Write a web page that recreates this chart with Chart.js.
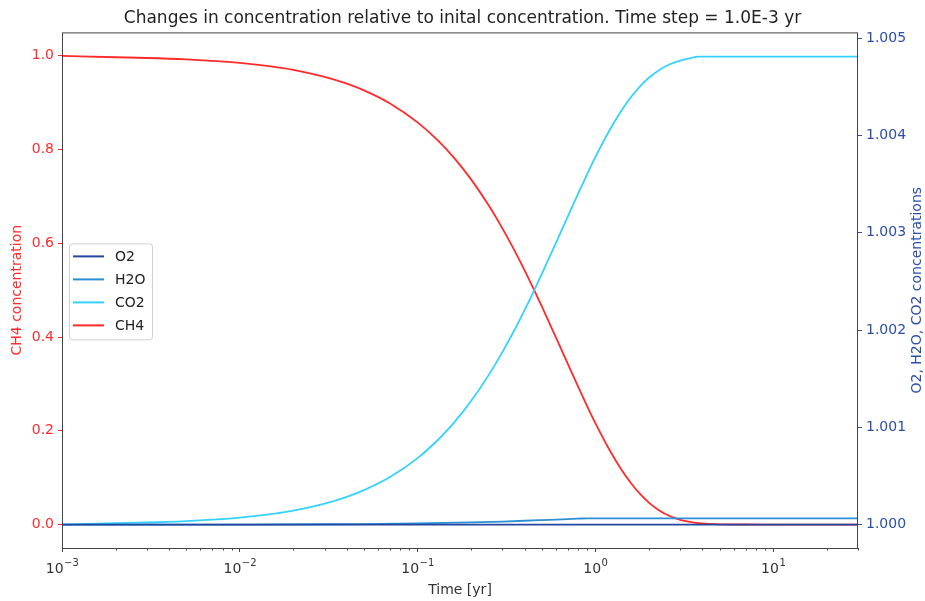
<!DOCTYPE html>
<html>
<head>
<meta charset="utf-8">
<script src="https://cdn.jsdelivr.net/npm/chart.js@4.4.1/dist/chart.umd.min.js"></script>
<style>
  html, body { margin: 0; padding: 0; background: #fff; }
  #wrap { width: 925px; height: 601px; }
</style>
</head>
<body>
<div id="wrap"><canvas id="concChart" width="925" height="601"></canvas></div>
<script>
// time axis (yr) and series
const times = [0.001, 0.002, 0.003, 0.005, 0.007, 0.01, 0.015, 0.02, 0.03, 0.04, 0.05, 0.07,
    0.1, 0.13, 0.16, 0.2, 0.25, 0.3, 0.35, 0.4, 0.45, 0.5, 0.6, 0.7, 0.8, 0.9,
    1.0, 1.2, 1.4, 1.6, 1.8, 2.0, 2.3, 2.6, 3.0, 3.4, 3.8, 5, 7, 10, 15, 20, 30];

const ch4 = [1.0, 0.997, 0.9954, 0.9924, 0.9893, 0.9848, 0.9773, 0.9699, 0.9551, 0.9406, 0.9264, 0.8985,
    0.8581, 0.8196, 0.7829, 0.7364, 0.6821, 0.6319, 0.5854, 0.5423, 0.5023, 0.4653, 0.3993, 0.3427, 0.2941, 0.2523,
    0.2165, 0.1595, 0.1174, 0.0865, 0.0637, 0.0469, 0.0296, 0.0187, 0.0101, 0.0055, 0.003, 0.0005, 0.0001, 0, 0, 0, 0];

const co2 = [1.000000, 1.000015, 1.000022, 1.000037, 1.000052, 1.000073, 1.000109, 1.000145, 1.000216, 1.000286, 1.000355, 1.000489,
    1.000684, 1.000870, 1.001046, 1.001271, 1.001532, 1.001774, 1.001998, 1.002206, 1.002399, 1.002577, 1.002895, 1.003168, 1.003402, 1.003604,
    1.003777, 1.004051, 1.004254, 1.004403, 1.004513, 1.004594, 1.004677, 1.004730, 1.004771, 1.004794, 1.004810, 1.004810, 1.004810,
    1.004810, 1.004810, 1.004810, 1.004810];

const h2oTimes = [0.001, 0.01, 0.03, 0.05, 0.1, 0.2, 0.3, 0.4, 0.5, 0.6, 0.7, 0.8, 0.9, 30];
const h2o = [1.0000001, 1.0000013, 1.0000040, 1.0000064, 1.0000124, 1.0000230, 1.0000321, 1.0000400,
    1.0000467, 1.0000524, 1.0000574, 1.0000616, 1.0000655, 1.0000655];

const o2Times = [0.001, 30];
const o2 = [1.0, 1.0];

const xTicks = [0.001, 0.01, 0.1, 1, 10];
const xTickExp = ['\u22123', '\u22122', '\u22121', '0', '1'];
const leftTicks = [0.0, 0.2, 0.4, 0.6, 0.8, 1.0];
const rightTicks = [1.000, 1.001, 1.002, 1.003, 1.004, 1.005];

const FONT = 'DejaVu Sans';
const RED = '#ff2a2a';
const BLUE_AX = '#2a4fa8';

const toPoints = (xs, ys) => xs.map((x, i) => ({ x: x, y: ys[i] }));

// frame, minor x ticks, x tick labels with exponents, right title and in-plot legend
const framePlugin = {
    id: 'frame',
    afterDraw(chart) {
        const { ctx, chartArea: a } = chart;
        const xs = chart.scales.x;
        ctx.save();
        ctx.strokeStyle = '#444';
        ctx.lineWidth = 1;
        ctx.strokeRect(a.left + 0.5, a.top + 0.5, a.right - a.left - 1, a.bottom - a.top);

        // minor ticks
        ctx.beginPath();
        for (let d = -3; d <= 1; d++) {
            for (let m = 2; m <= 9; m++) {
                const v = m * Math.pow(10, d);
                if (v > xs.max) break;
                const px = Math.round(xs.getPixelForValue(v)) + 0.5;
                ctx.moveTo(px, a.bottom);
                ctx.lineTo(px, a.bottom + 2.5);
            }
        }
        ctx.stroke();

        // x tick labels: 10 with superscript exponent
        ctx.fillStyle = '#333';
        ctx.textBaseline = 'alphabetic';
        ctx.textAlign = 'left';
        xTicks.forEach((v, i) => {
            const px = xs.getPixelForValue(v);
            ctx.font = '14px "' + FONT + '"';
            const wb = ctx.measureText('10').width;
            ctx.font = '10px "' + FONT + '"';
            const we = ctx.measureText(xTickExp[i]).width;
            const x0 = px - (wb + we) / 2;
            ctx.font = '14px "' + FONT + '"';
            ctx.fillText('10', x0, a.bottom + 25);
            ctx.font = '10px "' + FONT + '"';
            ctx.fillText(xTickExp[i], x0 + wb + 0.5, a.bottom + 18);
        });

        // right axis title, reading bottom to top
        ctx.save();
        ctx.translate(917, (a.top + a.bottom) / 2);
        ctx.rotate(-Math.PI / 2);
        ctx.font = '14px "' + FONT + '"';
        ctx.fillStyle = BLUE_AX;
        ctx.textAlign = 'center';
        ctx.textBaseline = 'middle';
        ctx.fillText('O2, H2O, CO2 concentrations', 0, 0);
        ctx.restore();

        // legend
        const lx = a.left + 7, ly = a.top + 211, lw = 83, lh = 96;
        ctx.fillStyle = 'rgba(255,255,255,0.85)';
        ctx.strokeStyle = '#d0d0d0';
        ctx.lineWidth = 1;
        ctx.beginPath();
        ctx.roundRect(lx + 0.5, ly + 0.5, lw, lh, 3);
        ctx.fill();
        ctx.stroke();
        ctx.font = '14px "' + FONT + '"';
        ctx.textBaseline = 'middle';
        ctx.textAlign = 'left';
        chart.data.datasets.forEach((ds, i) => {
            const y = ly + 13 + i * 23;
            ctx.strokeStyle = ds.borderColor;
            ctx.lineWidth = 2;
            ctx.beginPath();
            ctx.moveTo(lx + 4, y);
            ctx.lineTo(lx + 35, y);
            ctx.stroke();
            ctx.fillStyle = '#222';
            ctx.fillText(ds.label, lx + 46, y + 1);
        });
        ctx.restore();
    }
};

const ctx = document.getElementById('concChart');
new Chart(ctx, {
    type: 'line',
    data: {
        datasets: [
            { label: 'O2', data: toPoints(o2Times, o2), yAxisID: 'y2', borderColor: '#2346a0' },
            { label: 'H2O', data: toPoints(h2oTimes, h2o), yAxisID: 'y2', borderColor: '#2b8fd6' },
            { label: 'CO2', data: toPoints(times, co2), yAxisID: 'y2', borderColor: '#33d2ff' },
            { label: 'CH4', data: toPoints(times, ch4), yAxisID: 'y', borderColor: RED }
        ]
    },
    options: {
        responsive: false,
        animation: false,
        layout: { padding: 0 },
        elements: {
            point: { radius: 0 },
            line: { borderWidth: 1.8, cubicInterpolationMode: 'monotone' }
        },
        plugins: {
            legend: { display: false },
            tooltip: { enabled: false },
            title: {
                display: true,
                text: 'Changes in concentration relative to inital concentration. Time step = 1.0E-3 yr',
                color: '#222',
                font: { family: FONT, size: 17, weight: 'normal' },
                padding: { top: 8, bottom: 4 }
            }
        },
        scales: {
            x: {
                type: 'logarithmic',
                min: 0.001,
                max: 30,
                afterBuildTicks: (axis) => { axis.ticks = xTicks.map(v => ({ value: v })); },
                afterFit: (axis) => { axis.height = 53; },
                ticks: {
                    autoSkip: false,
                    maxRotation: 0,
                    font: { family: FONT, size: 14 },
                    callback: () => ''
                },
                grid: { drawOnChartArea: false, drawTicks: true, tickLength: 4, color: '#444' },
                border: { display: false },
                title: {
                    display: true, text: 'Time [yr]', color: '#333',
                    font: { family: FONT, size: 14 }, padding: { top: 0, bottom: 2 }
                }
            },
            y: {
                position: 'left',
                min: -0.05,
                max: 1.05,
                afterBuildTicks: (axis) => { axis.ticks = leftTicks.map(v => ({ value: v })); },
                afterFit: (axis) => { axis.width = 62; },
                ticks: {
                    color: RED,
                    padding: 4,
                    font: { family: FONT, size: 14 },
                    callback: (v) => v.toFixed(1)
                },
                grid: { drawOnChartArea: false, drawTicks: true, tickLength: 4, color: RED },
                border: { display: false },
                title: {
                    display: true, text: 'CH4 concentration', color: RED,
                    font: { family: FONT, size: 14 }, padding: { top: 9, bottom: 0 }
                }
            },
            y2: {
                position: 'right',
                min: 0.99976,
                max: 1.00506,
                afterBuildTicks: (axis) => { axis.ticks = rightTicks.map(v => ({ value: v })); },
                afterFit: (axis) => { axis.width = 67; },
                ticks: {
                    color: BLUE_AX,
                    padding: 4,
                    font: { family: FONT, size: 14 },
                    callback: (v) => v.toFixed(3)
                },
                grid: { drawOnChartArea: false, drawTicks: true, tickLength: 4, color: BLUE_AX },
                border: { display: false }
            }
        }
    },
    plugins: [framePlugin]
});
</script>
</body>
</html>
